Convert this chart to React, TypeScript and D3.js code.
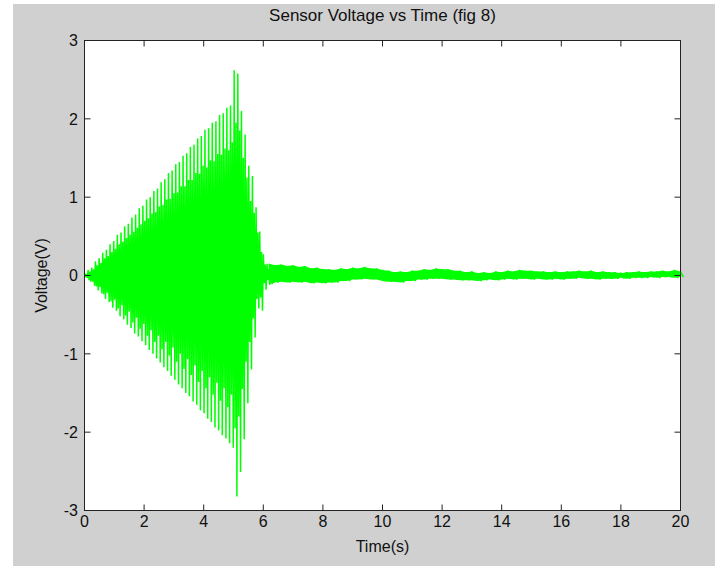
import React from "react";
import * as d3 from "d3";

// ---- data ----
const xTicks = [0, 2, 4, 6, 8, 10, 12, 14, 16, 18, 20];
const yTicks = [-3, -2, -1, 0, 1, 2, 3];

// burst: per oscillation cycle (cycle step 0.1225 s) the samples are
// upper peak, inner low, inner high, lower peak
const burstStep = 0.1225;
const burstHi = [0.03, 0.07, 0.10, 0.18, 0.22, 0.29, 0.33, 0.40, 0.44, 0.52, 0.55, 0.63, 0.66, 0.74, 0.78, 0.86, 0.89, 0.97, 1.00, 1.08, 1.11, 1.19, 1.23, 1.31, 1.34, 1.42, 1.45, 1.53, 1.56, 1.64, 1.67, 1.75, 1.78, 1.86, 1.88, 1.95, 1.97, 2.05, 2.07, 2.14, 2.17, 2.62, 2.58, 2.10, 1.80, 1.40, 1.27, 0.87, 0.56, 0.27, 0.15];
const burstMidLo = [-0.02, -0.06, -0.08, -0.14, -0.15, -0.24, -0.22, -0.33, -0.31, -0.42, -0.38, -0.51, -0.46, -0.60, -0.54, -0.68, -0.62, -0.77, -0.70, -0.85, -0.77, -0.94, -0.85, -1.02, -0.92, -1.10, -1.00, -1.19, -1.07, -1.27, -1.15, -1.36, -1.22, -1.44, -1.30, -1.52, -1.37, -1.60, -1.44, -1.68, -1.52, -1.95, -1.80, -1.45, -1.10, -0.85, -0.55, -0.30, -0.28, -0.10, -0.06];
const burstMidHi = [0.02, 0.05, 0.08, 0.13, 0.16, 0.22, 0.25, 0.30, 0.34, 0.40, 0.43, 0.48, 0.52, 0.56, 0.61, 0.65, 0.70, 0.73, 0.79, 0.81, 0.88, 0.90, 0.97, 0.98, 1.05, 1.06, 1.14, 1.14, 1.22, 1.22, 1.31, 1.30, 1.40, 1.38, 1.47, 1.46, 1.55, 1.54, 1.62, 1.60, 1.70, 1.95, 1.85, 1.50, 1.25, 0.95, 0.80, 0.55, 0.30, 0.14, 0.08];
const burstLo = [-0.03, -0.08, -0.13, -0.19, -0.23, -0.30, -0.34, -0.41, -0.45, -0.52, -0.56, -0.63, -0.67, -0.74, -0.78, -0.84, -0.89, -0.95, -1.00, -1.06, -1.11, -1.17, -1.22, -1.28, -1.33, -1.39, -1.44, -1.50, -1.54, -1.61, -1.65, -1.72, -1.76, -1.83, -1.87, -1.94, -1.98, -2.04, -2.08, -2.14, -2.20, -2.82, -2.51, -2.09, -1.63, -1.20, -0.79, -0.42, -0.45, -0.18, -0.12];

// tail: band of small oscillation, sampled every 0.2 s from 6.2 s
const tailStart = 6.2;
const tailStep = 0.2;
const tailHi = [0.15, 0.13, 0.14, 0.12, 0.13, 0.11, 0.12, 0.09, 0.10, 0.08, 0.08, 0.07, 0.09, 0.08, 0.10, 0.09, 0.11, 0.09, 0.09, 0.07, 0.06, 0.04, 0.05, 0.04, 0.06, 0.06, 0.08, 0.07, 0.09, 0.08, 0.08, 0.06, 0.06, 0.04, 0.05, 0.03, 0.04, 0.03, 0.05, 0.04, 0.06, 0.05, 0.07, 0.06, 0.06, 0.05, 0.05, 0.04, 0.05, 0.04, 0.05, 0.05, 0.06, 0.05, 0.06, 0.04, 0.05, 0.04, 0.04, 0.03, 0.04, 0.04, 0.05, 0.04, 0.05, 0.05, 0.06, 0.05, 0.07, 0.05];
const tailLo = [-0.11, -0.09, -0.08, -0.09, -0.08, -0.09, -0.08, -0.10, -0.09, -0.10, -0.09, -0.09, -0.07, -0.07, -0.05, -0.05, -0.04, -0.05, -0.05, -0.07, -0.08, -0.08, -0.09, -0.07, -0.07, -0.05, -0.05, -0.04, -0.04, -0.04, -0.05, -0.05, -0.06, -0.06, -0.06, -0.07, -0.06, -0.05, -0.06, -0.05, -0.04, -0.05, -0.04, -0.04, -0.05, -0.04, -0.05, -0.05, -0.04, -0.05, -0.04, -0.04, -0.03, -0.04, -0.04, -0.05, -0.04, -0.04, -0.04, -0.03, -0.04, -0.03, -0.03, -0.03, -0.02, -0.03, -0.02, -0.02, -0.03, -0.02];

const title = "Sensor Voltage vs Time (fig 8)";
const xLabel = "Time(s)";
const yLabel = "Voltage(V)";

const W = 715;
const H = 567;
const L = 84.5, R = 680.5, T = 40.5, B = 510.5;
const FONT = "'Liberation Sans', Arial, Helvetica, sans-serif";

export default function App() {
  const x = d3.scaleLinear().domain([0, 20]).range([L, R]);
  const y = d3.scaleLinear().domain([-3, 3]).range([B, T]);

  const pts: [number, number][] = [];
  burstHi.forEach((v, i) => {
    const t0 = i * burstStep;
    pts.push([t0, v]);
    pts.push([t0 + burstStep * 0.25, burstMidLo[i]]);
    pts.push([t0 + burstStep * 0.5, burstMidHi[i]]);
    pts.push([t0 + burstStep * 0.75, burstLo[i]]);
  });
  tailHi.forEach((v, k) => {
    pts.push([tailStart + k * tailStep, v]);
    pts.push([tailStart + k * tailStep + tailStep / 2, tailLo[k]]);
  });

  const line = d3
    .line<[number, number]>()
    .x((d) => x(d[0]))
    .y((d) => y(d[1]));

  const band = d3
    .area<number>()
    .x((_, k) => x(tailStart + k * tailStep))
    .y0((_, k) => y(tailLo[k]))
    .y1((v) => y(v));

  const tick = 6;

  return (
    <svg
      width={W}
      height={H}
      style={{ position: "absolute", left: 0, top: 0, background: "#fff" }}
    >
      <rect x={13} y={4} width={W - 13} height={562} fill="#d0d0d0" />
      <rect x={L} y={T} width={R - L} height={B - T} fill="#ffffff" />

      <path d={band(tailHi) || ""} fill="#00ff00" stroke="none" />
      <path
        d={line(pts) || ""}
        fill="none"
        stroke="#00ff00"
        strokeWidth={1.5}
        strokeLinejoin="miter"
        strokeMiterlimit={2}
      />

      {/* ticks */}
      {xTicks.map((t) => (
        <g key={"xt" + t}>
          <line x1={x(t)} x2={x(t)} y1={B} y2={B - tick} stroke="#222" />
          <line x1={x(t)} x2={x(t)} y1={T} y2={T + tick} stroke="#222" />
          <text
            x={x(t)}
            y={527}
            textAnchor="middle"
            fontFamily={FONT}
            fontSize={16}
            fill="#111"
          >
            {t}
          </text>
        </g>
      ))}
      {yTicks.map((t) => (
        <g key={"yt" + t}>
          <line x1={L} x2={L + tick} y1={y(t)} y2={y(t)} stroke="#222" />
          <line x1={R} x2={R - tick} y1={y(t)} y2={y(t)} stroke="#222" />
          <text
            x={78}
            y={y(t)}
            dy="0.36em"
            textAnchor="end"
            fontFamily={FONT}
            fontSize={16}
            fill="#111"
          >
            {t}
          </text>
        </g>
      ))}

      <rect
        x={L}
        y={T}
        width={R - L}
        height={B - T}
        fill="none"
        stroke="#222"
        strokeWidth={1}
      />

      <text
        x={(L + R) / 2}
        y={21}
        textAnchor="middle"
        fontFamily={FONT}
        fontSize={17}
        fill="#111"
      >
        {title}
      </text>
      <text
        x={(L + R) / 2}
        y={552}
        textAnchor="middle"
        fontFamily={FONT}
        fontSize={16}
        fill="#111"
      >
        {xLabel}
      </text>
      <text
        transform={`translate(47, ${(T + B) / 2}) rotate(-90)`}
        textAnchor="middle"
        fontFamily={FONT}
        fontSize={16}
        fill="#111"
      >
        {yLabel}
      </text>
    </svg>
  );
}
